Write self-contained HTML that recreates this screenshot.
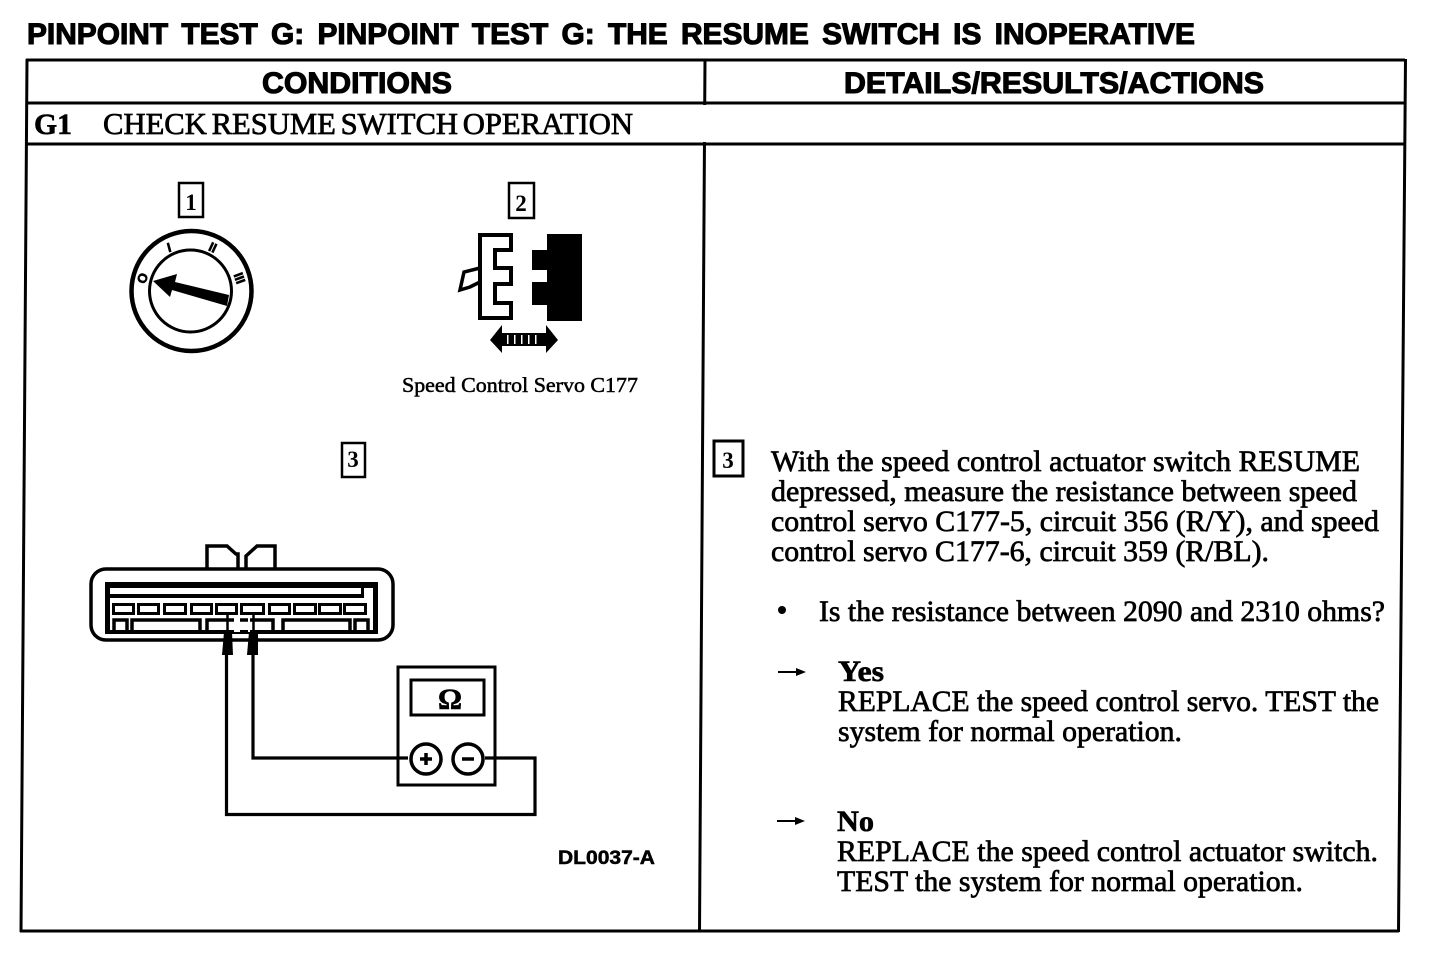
<!DOCTYPE html>
<html><head><meta charset="utf-8"><style>
html,body{margin:0;padding:0;background:#fff;width:1440px;height:956px;overflow:hidden}
svg{display:block}
.s{font-family:"Liberation Serif",serif;font-size:30px;fill:#000;stroke:#000;stroke-width:.7px}
.h{font-family:"Liberation Sans",sans-serif;font-weight:bold;font-size:30px;fill:#000;stroke:#000;stroke-width:1.1px}
.b{font-family:"Liberation Serif",serif;font-weight:bold;fill:#000;stroke:#000;stroke-width:.6px}
.n{font-family:"Liberation Serif",serif;font-weight:bold;font-size:23px;fill:#000;text-anchor:middle}
.l{fill:none;stroke:#000}
</style></head><body>
<svg width="1440" height="956" viewBox="0 0 1440 956" xmlns="http://www.w3.org/2000/svg">
<text class="h" x="27" y="44" style="word-spacing:5px" textLength="1168" lengthAdjust="spacingAndGlyphs">PINPOINT TEST G: PINPOINT TEST G: THE RESUME SWITCH IS INOPERATIVE</text>
<g class="l" stroke-width="3">
<path d="M26 60H1405M26 103H1405M26 144H1405M20 931H1399"/>
<path d="M27 59L21 932M1405.5 59L1398.5 932M705 59L699.5 932" fill="none"/>
</g>
<rect x="702" y="105" width="6" height="37" fill="#fff"/>
<text class="h" x="262" y="93" textLength="190" lengthAdjust="spacingAndGlyphs">CONDITIONS</text>
<text class="h" x="844" y="93" textLength="420" lengthAdjust="spacingAndGlyphs">DETAILS/RESULTS/ACTIONS</text>
<text class="b" x="34" y="134" font-size="30" textLength="38" lengthAdjust="spacingAndGlyphs">G1</text>
<text class="s" x="103" y="134" style="font-size:31px;word-spacing:-3px" textLength="530" lengthAdjust="spacingAndGlyphs">CHECK RESUME SWITCH OPERATION</text>

<g class="l" stroke-width="2.5"><rect x="179" y="183" width="24" height="34"/><rect x="509" y="183" width="25" height="35"/><rect x="342" y="443" width="23" height="34"/></g>
<rect class="l" x="714" y="441" width="29" height="35" stroke-width="3"/>
<text class="n" x="191" y="210">1</text><text class="n" x="521" y="211">2</text><text class="n" x="353" y="467" font-weight="normal">3</text><text class="n" x="728" y="468">3</text>

<circle class="l" cx="191.5" cy="291" r="60" stroke-width="4.5"/>
<circle class="l" cx="190.5" cy="291" r="41" stroke-width="3"/>
<polygon points="153,281 177,274 175,282 229,295 227,306 172,290 170,297"/>
<g font-family="Liberation Sans,sans-serif" font-weight="bold" font-size="13" text-anchor="middle" fill="#000" stroke="#000" stroke-width=".7">
<text x="142" y="283" transform="rotate(-70 142 278)">O</text><text x="169" y="252" transform="rotate(-15 169 247)">I</text><text x="213" y="252" transform="rotate(25 213 247)">II</text><text x="240" y="283" transform="rotate(70 240 278)">III</text>
</g>

<path class="l" stroke-width="4" d="M480 235H511V250H495V268H511V284H495V303H511V318H480Z"/>
<path class="l" stroke-width="3.5" d="M480 268L464 272 460 290 470 287 480 282"/>
<path d="M547 234H582V321H547V305H532V282H547V270H532V250H547Z"/>
<polygon points="490,340 502,325 502,333 546,333 546,325 558,340 546,353 546,346 502,346 502,353"/>
<g fill="#fff"><rect x="507" y="335" width="1.5" height="9"/><rect x="514" y="335" width="1.5" height="9"/><rect x="521" y="335" width="1.5" height="9"/><rect x="528" y="335" width="1.5" height="9"/><rect x="535" y="335" width="1.5" height="9"/></g>
<text class="s" x="402" y="392" style="font-size:21px;stroke-width:.5px" textLength="236" lengthAdjust="spacingAndGlyphs">Speed Control Servo C177</text>

<g class="l" stroke-width="3.5">
<path d="M207 568V546H227L236 554H238V568M246 568V556L257 546H275V568"/>
<rect x="91" y="569" width="302" height="71" rx="15"/>
</g>
<g fill="#000">
<rect x="105" y="582" width="273" height="6"/><rect x="105" y="582" width="5" height="52"/><rect x="373" y="582" width="5" height="52"/><rect x="105" y="630" width="273" height="4"/>
<rect x="110" y="594" width="254" height="4"/><rect x="361" y="588" width="3" height="10"/>
</g>
<g class="l" stroke-width="3">
<rect x="113.500" y="604.500" width="20" height="9"/><rect x="138.500" y="604.500" width="20" height="9"/><rect x="164.500" y="604.500" width="21" height="9"/><rect x="191.500" y="604.500" width="20" height="9"/><rect x="216.500" y="604.500" width="20" height="9"/><rect x="241.500" y="604.500" width="22" height="9"/><rect x="269.500" y="604.500" width="20" height="9"/><rect x="294.500" y="604.500" width="21" height="9"/><rect x="319.500" y="604.500" width="21" height="9"/><rect x="344.500" y="604.500" width="21" height="9"/>
</g>
<path class="l" stroke-width="3.5" d="M114 632V620H127V632M132 632V620H200V632M207 632V620H273V632M283 632V620H350V632M355 632V620H368V632"/>
<path fill="#fff" d="M234 616h6v16h-6zM250 616h-2v16h2z"/>
<path class="l" stroke-width="2.500" d="M227.500 613V634M253.500 613V634"/>
<polygon points="224,632 232,632 233,655 222,655"/>
<polygon points="249,632 258,632 258,655 247,655"/>
<path class="l" stroke-width="3.2" d="M226.500 650V814.500H535V758H485M253 650V758H408"/>
<rect class="l" x="398" y="667" width="97" height="118" stroke-width="3"/>
<rect class="l" x="411" y="680" width="73" height="35" stroke-width="3"/>
<text x="450" y="709" text-anchor="middle" font-family="Liberation Serif,serif" font-weight="bold" font-size="30" fill="#000" stroke="#000" stroke-width=".6">Ω</text>
<circle cx="426" cy="759" r="15" fill="#fff" stroke="#000" stroke-width="3.500"/>
<circle cx="468" cy="759" r="15" fill="#fff" stroke="#000" stroke-width="3.500"/>
<path class="l" stroke-width="3.500" d="M420 759H432M426 753V765M462 759H474"/>
<text x="558" y="864" font-family="Liberation Sans,sans-serif" font-weight="bold" font-size="19" fill="#000" stroke="#000" stroke-width=".5" textLength="97" lengthAdjust="spacingAndGlyphs">DL0037-A</text>

<text class="s" x="771" y="471" textLength="589" lengthAdjust="spacingAndGlyphs">With the speed control actuator switch RESUME</text>
<text class="s" x="771" y="501" textLength="586" lengthAdjust="spacingAndGlyphs">depressed, measure the resistance between speed</text>
<text class="s" x="771" y="531" textLength="608" lengthAdjust="spacingAndGlyphs">control servo C177-5, circuit 356 (R/Y), and speed</text>
<text class="s" x="771" y="561" textLength="498" lengthAdjust="spacingAndGlyphs">control servo C177-6, circuit 359 (R/BL).</text>
<circle cx="782" cy="610" r="4"/>
<text class="s" x="819" y="621" textLength="566" lengthAdjust="spacingAndGlyphs">Is the resistance between 2090 and 2310 ohms?</text>
<path class="l" stroke-width="2" d="M778 672H802"/><polygon points="796,668 806,672 796,676"/>
<text class="b" x="838" y="681" font-size="30" textLength="46" lengthAdjust="spacingAndGlyphs">Yes</text>
<text class="s" x="838" y="711" textLength="541" lengthAdjust="spacingAndGlyphs">REPLACE the speed control servo. TEST the</text>
<text class="s" x="838" y="741" textLength="344" lengthAdjust="spacingAndGlyphs">system for normal operation.</text>
<path class="l" stroke-width="2" d="M777 821H801"/><polygon points="795,817 805,821 795,825"/>
<text class="b" x="837" y="831" font-size="30" textLength="37" lengthAdjust="spacingAndGlyphs">No</text>
<text class="s" x="837" y="861" textLength="541" lengthAdjust="spacingAndGlyphs">REPLACE the speed control actuator switch.</text>
<text class="s" x="837" y="891" textLength="466" lengthAdjust="spacingAndGlyphs">TEST the system for normal operation.</text>
</svg>
</body></html>
